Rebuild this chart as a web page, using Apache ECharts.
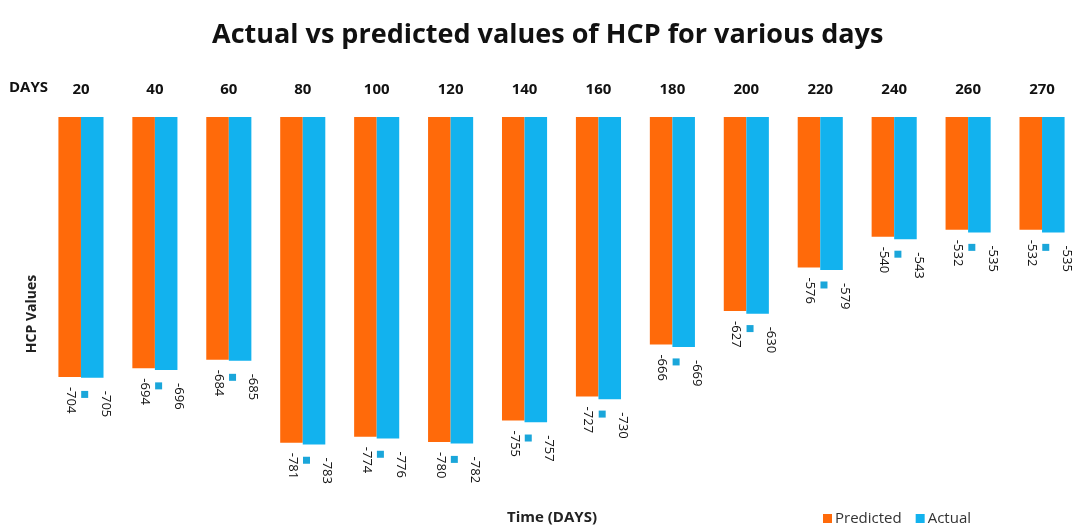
<!DOCTYPE html>
<html>
<head>
<meta charset="utf-8">
<script src="https://cdn.jsdelivr.net/npm/echarts@6/dist/echarts.min.js"></script>
<style>
  html, body { margin: 0; padding: 0; background: #fff; }
  #chart { width: 1073px; height: 525px; }
</style>
</head>
<body>
<div id="chart"></div>
<script>
// days on the time axis
var days = ['20', '40', '60', '80', '100', '120', '140', '160', '180', '200', '220', '240', '260', '270']
// HCP values
var predicted = [-704, -694, -684, -781, -774, -780, -755, -727, -666, -627, -576, -540, -532, -532]
var actual = [-705, -696, -685, -783, -776, -782, -757, -730, -669, -630, -579, -543, -535, -535]

var ORANGE = '#FF6A0A'
var BLUE = '#12B2EE'
var FONT = '"Open Sans", sans-serif'

var chart = echarts.init(document.getElementById('chart'))

chart.setOption({
  backgroundColor: '#fff',
  animation: false,
  textStyle: { fontFamily: FONT },
  title: [
    {
      text: 'Actual vs predicted values of HCP for various days',
      left: 212,
      top: 22,
      padding: 0,
      textStyle: { fontSize: 27, fontWeight: 'bold', color: '#111', fontFamily: FONT }
    },
    {
      text: 'DAYS',
      left: 9,
      top: 80,
      padding: 0,
      textStyle: { fontSize: 15, fontWeight: 'bold', color: '#111', fontFamily: FONT }
    },
    {
      text: 'Time (DAYS)',
      left: 507,
      top: 510,
      padding: 0,
      textStyle: { fontSize: 15, fontWeight: 'bold', color: '#222', fontFamily: FONT }
    }
  ],
  legend: {
    data: ['Predicted', 'Actual'],
    left: 818,
    top: 506,
    itemWidth: 9,
    itemHeight: 9,
    itemGap: 14,
    icon: 'rect',
    textStyle: { fontSize: 15, color: '#333', padding: [0, 0, 0, -2] }
  },
  grid: {
    left: 44,
    right: -6,
    top: 117,
    bottom: 66,
    containLabel: false,
    outerBoundsMode: 'none'
  },
  xAxis: {
    type: 'category',
    position: 'top',
    data: days,
    axisLine: { show: false },
    axisTick: { show: false },
    axisLabel: {
      margin: 20,
      fontSize: 15,
      fontWeight: 'bold',
      color: '#111'
    }
  },
  yAxis: {
    type: 'value',
    min: -800,
    max: -400,
    startValue: -400,
    name: 'HCP Values',
    nameLocation: 'middle',
    nameRotate: 90,
    nameGap: 5,
    nameTextStyle: { fontSize: 14, fontWeight: 'bold', color: '#222', padding: [0, 52, 0, 0] },
    axisLine: { show: false },
    axisTick: { show: false },
    axisLabel: { show: false },
    splitLine: { show: false }
  },
  series: [
    {
      name: 'Predicted',
      type: 'bar',
      data: predicted,
      barGap: 0,
      barCategoryGap: '39%',
      itemStyle: { color: ORANGE },
      label: {
        show: true,
        position: 'bottom',
        distance: 10,
        rotate: -90,
        align: 'left',
        verticalAlign: 'middle',
        // offset is in the rotated frame: -y moves right on screen
        offset: [0, -8],
        formatter: '{s|}{k|}\n{v|{c}}',
        rich: {
          v: { fontSize: 13, color: '#111', lineHeight: 14 },
          s: { width: 4, height: 7, lineHeight: 14 },
          k: { width: 7, height: 7, backgroundColor: '#1AA6DA', lineHeight: 14 }
        }
      }
    },
    {
      name: 'Actual',
      type: 'bar',
      data: actual,
      itemStyle: { color: BLUE },
      label: {
        show: true,
        position: 'bottom',
        distance: 13,
        rotate: -90,
        align: 'left',
        verticalAlign: 'middle',
        offset: [0, -13],
        fontSize: 13,
        color: '#111'
      }
    }
  ]
})
</script>
</body>
</html>
